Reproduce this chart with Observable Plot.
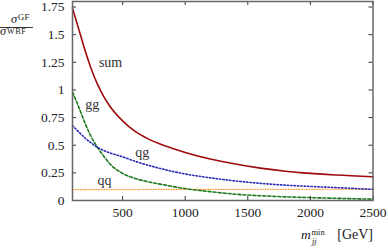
<!DOCTYPE html>
<html>
<head>
<meta charset="utf-8">
<script src="https://cdn.jsdelivr.net/npm/d3@7"></script>
<script src="https://cdn.jsdelivr.net/npm/@observablehq/plot@0.6"></script>
<style>
  html, body { margin: 0; padding: 0; background: #fff; }
  #wrap { position: relative; width: 388px; height: 248px; font-family: "Liberation Serif", serif; color: #222; }
  .lab { position: absolute; white-space: nowrap; line-height: 1; font-family: "Liberation Serif", serif; color: #222; }
  .tight { line-height: 0.7; }
</style>
</head>
<body>
<div id="wrap"></div>
<script>
const mjj = [100, 150, 200, 250, 300, 350, 400, 500, 600, 700, 800, 900, 1000, 1200, 1400, 1600, 1800, 2000, 2200, 2500];
const sumVals = [1.74, 1.55, 1.36, 1.19, 1.05, 0.94, 0.85, 0.72, 0.625, 0.56, 0.51, 0.47, 0.435, 0.375, 0.33, 0.293, 0.265, 0.245, 0.23, 0.215];
const ggVals  = [0.98, 0.845, 0.70, 0.575, 0.48, 0.40, 0.33, 0.245, 0.20, 0.17, 0.148, 0.127, 0.108, 0.08, 0.057, 0.043, 0.033, 0.026, 0.02, 0.012];
const qgVals  = [0.678, 0.62, 0.565, 0.52, 0.48, 0.452, 0.43, 0.395, 0.355, 0.32, 0.29, 0.263, 0.24, 0.205, 0.177, 0.155, 0.139, 0.127, 0.117, 0.10];
const qqVals  = [0.098, 0.098, 0.098, 0.098, 0.099, 0.099, 0.099, 0.099, 0.099, 0.1, 0.1, 0.1, 0.1, 0.1, 0.1, 0.101, 0.101, 0.101, 0.102, 0.102];

const xTicks = [500, 1000, 1500, 2000, 2500];
const yTicks = [0, 0.25, 0.5, 0.75, 1, 1.25, 1.5, 1.75];

const curveLabels = [
  {text: "sum", x: 404, y: 1.25, italic: false},
  {text: "gg", x: 257, y: 0.866, italic: true},
  {text: "qg", x: 657, y: 0.436, italic: true},
  {text: "qq", x: 356, y: 0.183, italic: true}
];

const rows = (vals) => mjj.map((x, i) => ({x, y: vals[i]}));

const W = 388, H = 248, mL = 72, mR = 15.5, mT = 1, mB = 48;
const innerW = W - mL - mR, innerH = H - mT - mB;
const FONT = "'Liberation Serif', serif";

const chart = Plot.plot({
  width: W, height: H,
  marginLeft: mL, marginRight: mR, marginTop: mT, marginBottom: mB,
  style: {fontFamily: FONT, fontSize: "13.5px", color: "#222", background: "#fff"},
  x: {domain: [100, 2500]},
  y: {domain: [0, 1.8]},
  marks: [
    Plot.lineY(rows(qqVals), {x: "x", y: "y", stroke: "#ffa040", strokeWidth: 1.2, strokeDasharray: "1,1.6", curve: "monotone-x"}),
    Plot.lineY(rows(ggVals), {x: "x", y: "y", stroke: "#1d7a1d", strokeWidth: 1.6, strokeDasharray: "3,2", curve: "monotone-x"}),
    Plot.lineY(rows(qgVals), {x: "x", y: "y", stroke: "#2b2bb5", strokeWidth: 1.6, strokeDasharray: "1.4,2", curve: "monotone-x"}),
    Plot.lineY(rows(sumVals), {x: "x", y: "y", stroke: "#9e0a0a", strokeWidth: 1.6, curve: "monotone-x"}),
    Plot.text(curveLabels, {x: "x", y: "y", text: "text", fontStyle: d => d.italic ? "italic" : "normal", fontSize: 14, fontFamily: FONT, fill: "#333"}),
    Plot.tickY(yTicks, {y: d => d, insetRight: innerW - 4, stroke: "#333", strokeWidth: 1}),
    Plot.tickY(yTicks, {y: d => d, insetLeft: innerW - 4, stroke: "#333", strokeWidth: 1}),
    Plot.tickX(xTicks, {x: d => d, insetBottom: innerH - 4, stroke: "#333", strokeWidth: 1}),
    Plot.tickX(xTicks, {x: d => d, insetTop: innerH - 4, stroke: "#333", strokeWidth: 1}),
    Plot.axisX({ticks: xTicks, tickSize: 0, tickPadding: 7, tickFormat: d => String(d), label: null, fontSize: 13.5, fontFamily: FONT}),
    Plot.axisY({ticks: yTicks, tickSize: 0, tickPadding: 8, tickFormat: d => String(d), label: null, fontSize: 13.5, fontFamily: FONT}),
    Plot.frame({stroke: "#666", strokeWidth: 1.5})
  ]
});

const wrap = document.getElementById("wrap");
wrap.appendChild(chart);
chart.style.position = "absolute";
chart.style.left = "0px";
chart.style.top = "0px";

function addLabel(html, css, cls) {
  const d = document.createElement("div");
  d.className = "lab" + (cls ? " " + cls : "");
  d.innerHTML = html;
  Object.assign(d.style, css);
  wrap.appendChild(d);
  return d;
}

// y-axis label: sigma^GF / sigma^WBF
addLabel('<i>σ</i>', {left: "11px", top: "15.4px", fontSize: "12.5px"}, "tight");
addLabel('GF', {left: "18px", top: "15.2px", fontSize: "8.5px", letterSpacing: "0.3px"}, "tight");
addLabel('', {left: "0px", top: "27px", width: "33px", height: "0px", borderTop: "0.8px solid #333"});
addLabel('<i>σ</i>', {left: "0px", top: "26.9px", fontSize: "12.5px"}, "tight");
addLabel('WBF', {left: "7px", top: "28.7px", fontSize: "8px", letterSpacing: "0.7px"}, "tight");

// x-axis label: m_jj^min [GeV]
addLabel('<i>m</i>', {left: "301px", top: "228px", fontSize: "13.5px"});
addLabel('min', {left: "311.5px", top: "228px", fontSize: "8.5px"});
addLabel('<i>jj</i>', {left: "312px", top: "237px", fontSize: "8.5px"});
addLabel('[GeV]', {right: "15px", top: "228px", fontSize: "14px"});
</script>
</body>
</html>
